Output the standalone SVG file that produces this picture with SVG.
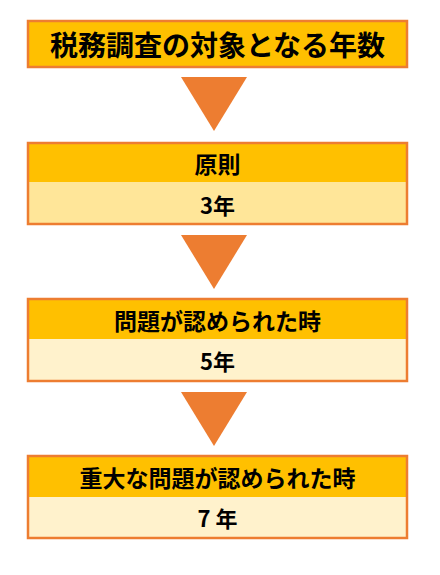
<svg xmlns="http://www.w3.org/2000/svg" width="440" height="575" viewBox="0 0 440 575">
<style>
.frame{fill:none;stroke:#ED7D31;stroke-width:2.5}
.hd{fill:#FFC000}
.b1{fill:#FFE699}
.b2{fill:#FFF2CC}
.arr{fill:#ED7D31}
text{font-family:"Noto Sans CJK JP","Noto Sans CJK SC",sans-serif;font-weight:bold;fill:#000;text-anchor:middle;dominant-baseline:central}
.t{font-size:28px}
.h{font-size:23px}
.v{font-size:22px}
</style>
<rect width="440" height="575" fill="#fff"/>
<g id="title">
<rect class="hd" x="28" y="21" width="379" height="46"/>
<rect class="frame" x="28" y="21" width="379" height="46"/>
<text class="t" x="217.5" y="44">税務調査の対象となる年数</text>
</g>
<g id="connectors">
<polygon class="arr" points="181,77 247,77 214,131"/>
<polygon class="arr" points="181,235 247,235 214,289"/>
<polygon class="arr" points="181,392 247,392 214,446"/>
</g>
<g id="node-principle">
<rect class="hd" x="28" y="143" width="379" height="39"/>
<rect class="b1" x="28" y="182" width="379" height="42"/>
<rect class="frame" x="28" y="143" width="379" height="81"/>
<text class="h" x="217.5" y="163">原則</text>
<text class="v" x="217.5" y="204">3年</text>
</g>
<g id="node-problem">
<rect class="hd" x="28" y="299" width="379" height="40"/>
<rect class="b2" x="28" y="339" width="379" height="42"/>
<rect class="frame" x="28" y="299" width="379" height="82"/>
<text class="h" x="217.5" y="320">問題が認められた時</text>
<text class="v" x="217.5" y="360">5年</text>
</g>
<g id="node-serious">
<rect class="hd" x="28" y="456" width="379" height="41"/>
<rect class="b2" x="28" y="497" width="379" height="41"/>
<rect class="frame" x="28" y="456" width="379" height="82"/>
<text class="h" x="217.5" y="477">重大な問題が認められた時</text>
<text class="v" x="217.5" y="517">7 年</text>
</g>
</svg>
